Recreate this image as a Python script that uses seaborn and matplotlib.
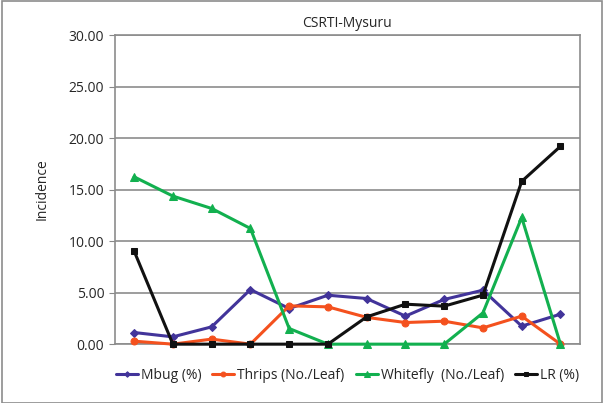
import numpy as np
import pandas as pd
import matplotlib
matplotlib.use("Agg")
import matplotlib.pyplot as plt
import seaborn as sns

sns.set_style("white")
plt.rcParams['font.family'] = ['Open Sans', 'DejaVu Sans']

# observation points (12 sampling dates, unlabeled on the x axis)
points = list(range(1, 13))
mbug = [1.13, 0.71, 1.68, 5.3, 3.46, 4.75, 4.43, 2.72, 4.34, 5.24, 1.75, 2.91]
thrips = [0.29, 0.0, 0.49, 0.0, 3.72, 3.62, 2.6, 2.1, 2.23, 1.58, 2.72, 0.0]
whitefly = [16.24, 14.37, 13.17, 11.23, 1.52, 0.0, 0.0, 0.0, 0.0, 3.04, 12.3, 0.0]
lr = [9.03, 0.0, 0.0, 0.0, 0.0, 0.0, 2.65, 3.88, 3.69, 4.76, 15.8, 19.2]

series = ['Mbug (%)', 'Thrips (No./Leaf)', 'Whitefly  (No./Leaf)', 'LR (%)']
colors = ['#42349a', '#f4511e', '#12b04f', '#111111']
markers = ['D', 'o', '^', 's']
msizes = [4, 5, 6, 5]

df = pd.DataFrame({'point': points * 4,
                   'value': mbug + thrips + whitefly + lr,
                   'series': np.repeat(series, len(points))})

fig = plt.figure(figsize=(6.04, 4.03), dpi=100)
ax = fig.add_axes([0.19, 0.146, 0.77, 0.767])

for name, c, m, ms in zip(series, colors, markers, msizes):
    sub = df[df['series'] == name]
    sns.lineplot(x='point', y='value', data=sub, ax=ax, color=c, marker=m,
                 markersize=ms, markeredgecolor=c, linewidth=2.2, label=name,
                 clip_on=False, zorder=3)

ax.set_xlim(0.5, 12.5)
ax.set_ylim(0, 30)
ax.set_yticks(np.arange(0, 31, 5))
ax.set_yticklabels(['%.2f' % v for v in np.arange(0, 31, 5)], fontsize=10)
ax.set_xticks(np.arange(0.5, 12.6, 1))
ax.set_xticklabels([])
ax.tick_params(axis='x', length=0)
ax.tick_params(axis='y', length=4, color='#888888', direction='out', left=True)
ax.yaxis.grid(True, color='#8c8c8c', linewidth=1.2)
ax.set_axisbelow(True)
for s in ax.spines.values():
    s.set_color('#8c8c8c')
    s.set_linewidth(1.2)
ax.set_xlabel('')
ax.set_ylabel('Incidence', fontsize=10, labelpad=14)
ax.set_title('CSRTI-Mysuru', fontsize=10, pad=6)

ax.legend(loc='center', bbox_to_anchor=(0.5, -0.1), ncol=4, frameon=False,
          fontsize=10, handlelength=1.6, handletextpad=0.2, columnspacing=0.8,
          markerscale=0.7)

# outer chart border
fig.patches.append(plt.Rectangle((0.004, 0.0), 0.993, 0.998, transform=fig.transFigure,
                                 fill=False, edgecolor='#8c8c8c', linewidth=1.2))

plt.savefig('out.png', dpi=100)
